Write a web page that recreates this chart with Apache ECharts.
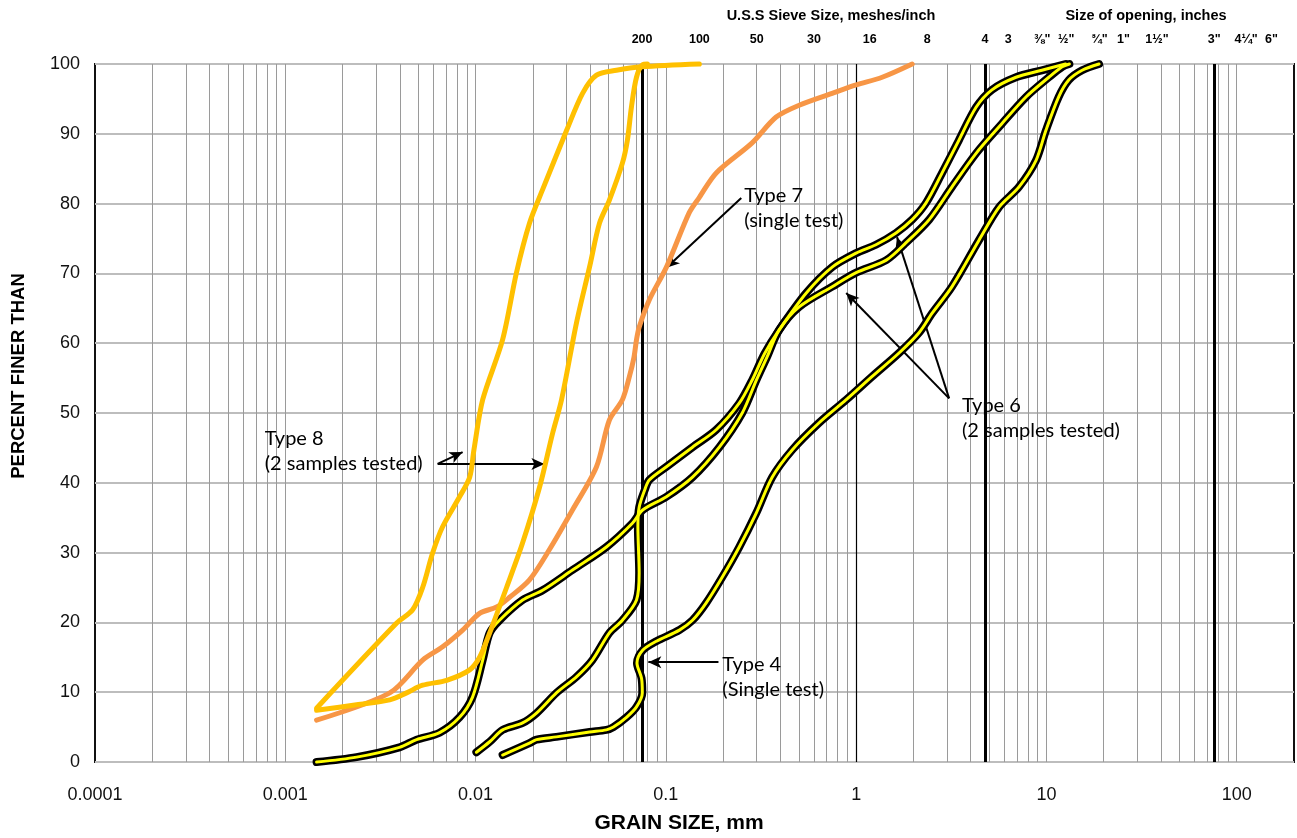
<!DOCTYPE html>
<html>
<head>
<meta charset="utf-8">
<title>Grain size distribution</title>
<script src="https://cdn.jsdelivr.net/npm/echarts@6/dist/echarts.min.js"></script>
<style>
  html, body { margin: 0; padding: 0; background: #fff; }
  #chart { width: 1297px; height: 838px; }
</style>
</head>
<body>
<div id="chart"></div>
<script>
// grain size (mm) and percent finer
const type8aSize = [0.00146, 0.00385, 0.00467, 0.00527, 0.00594, 0.00671, 0.00824, 0.00931, 0.0098, 0.0109, 0.01387, 0.0164, 0.0192, 0.0225, 0.0301, 0.0365, 0.0432, 0.055, 0.075, 0.15]
const type8aPct = [7.7, 19.9, 21.8, 25, 29.9, 33.7, 38, 40.8, 44.7, 51.9, 60.5, 70.1, 77.2, 82, 90.5, 95.8, 98.4, 99.1, 99.6, 100]

const type8bSize = [0.00146, 0.00237, 0.00354, 0.00434, 0.00527, 0.00705, 0.00931, 0.0105, 0.01186, 0.01455, 0.01767, 0.0217, 0.0254, 0.0283, 0.0339, 0.0397, 0.0448, 0.0505, 0.0591, 0.0628, 0.0659, 0.0701, 0.0755, 0.08]
const type8bPct = [7.4, 8.2, 8.9, 9.9, 11, 11.7, 13.2, 15, 18.5, 25, 31.4, 39.4, 47.1, 51.9, 62.9, 70.9, 77.2, 80.5, 85.8, 89.1, 93.8, 98.1, 99.9, 100]

const type7Size = [0.00146, 0.00354, 0.00527, 0.00671, 0.00855, 0.0105, 0.0129, 0.0151, 0.0192, 0.0244, 0.0323, 0.0432, 0.0505, 0.0591, 0.0643, 0.068, 0.0701, 0.0724, 0.0818, 0.1007, 0.1327, 0.15, 0.184, 0.284, 0.38, 0.502, 0.748, 1.0, 1.37, 1.97]
const type7Pct = [6.0, 9.9, 14.6, 16.5, 18.9, 21.3, 22.2, 23.6, 26.1, 30.4, 36.1, 42.3, 49, 51.9, 55.2, 58, 60.5, 62.3, 66.2, 70.9, 78.7, 80.9, 84.4, 88.7, 92.4, 94.1, 95.8, 97, 98.1, 100]

const type6aSize = [0.00146, 0.00237, 0.00398, 0.0049, 0.00647, 0.00824, 0.00964, 0.0109, 0.01186, 0.01336, 0.01767, 0.0225, 0.0323, 0.0487, 0.0667, 0.0755, 0.1007, 0.138, 0.191, 0.252, 0.299, 0.34, 0.394, 0.502, 0.748, 1.0, 1.44, 1.83, 2.42, 3.19, 4.27, 5.64, 7.83, 10.3, 12.1, 13.2]
const type6aPct = [0, 0.7, 2.1, 3.2, 4.2, 6.4, 9.3, 14.6, 18.5, 20.3, 23.2, 24.6, 27.5, 30.8, 34.2, 36.1, 38, 40.8, 45.1, 50, 54.7, 58, 61.9, 65.2, 68.1, 70.1, 71.9, 74.4, 77.7, 82.4, 87.2, 91, 95.3, 98.1, 99.6, 100]

const type6bSize = [0.0101, 0.01186, 0.01387, 0.01767, 0.0209, 0.0266, 0.0339, 0.0411, 0.0505, 0.0591, 0.0701, 0.0724, 0.0713, 0.0724, 0.0775, 0.0818, 0.1007, 0.138, 0.184, 0.243, 0.284, 0.33, 0.394, 0.547, 0.748, 1.0, 1.27, 1.62, 1.97, 2.33, 2.83, 3.47, 4.27, 5.17, 6.92, 9.46, 12.6]
const type6bPct = [1.4, 2.9, 4.6, 5.6, 7.0, 9.9, 12.2, 14.6, 18.5, 20.3, 23.2, 27.1, 33.7, 36.5, 39, 40.4, 42.3, 45.1, 47.6, 51.4, 54.7, 58.5, 61.9, 67.2, 70.9, 72.9, 74.1, 75.8, 77.7, 80.1, 84.4, 89.1, 93.8, 96.3, 98.1, 99.1, 100]

const type4Size = [0.01387, 0.0192, 0.0209, 0.0266, 0.0397, 0.0487, 0.053, 0.0621, 0.0701, 0.0752, 0.0745, 0.0705, 0.0755, 0.0891, 0.1178, 0.138, 0.163, 0.198, 0.243, 0.299, 0.362, 0.461, 0.639, 0.887, 1.21, 1.68, 2.14, 2.51, 3.19, 4.43, 5.64, 7.18, 8.82, 9.94, 11.6, 13.1, 15.4, 18.9]
const type4Pct = [1.0, 2.7, 3.2, 3.6, 4.3, 4.6, 5.0, 6.4, 7.9, 9.9, 12, 14.2, 16.0, 17.3, 18.9, 20.3, 22.8, 26.5, 30.8, 35.7, 40.8, 44.7, 48.6, 51.9, 55.2, 58.6, 61.5, 64.3, 68.1, 74.8, 79.5, 82.4, 86.2, 90.5, 95.3, 97.7, 99.1, 100]

// axis ticks
const xTickValues = [0.0001, 0.001, 0.01, 0.1, 1, 10, 100]
const xTickLabels = ['0.0001', '0.001', '0.01', '0.1', '1', '10', '100']

// sieve / opening sizes along the top (mm)
const sieveSizes = [0.075, 0.15, 0.3, 0.6, 1.18, 2.36, 4.75, 6.3, 9.5, 12.7, 19.0, 25.4, 38.1, 76.2, 112, 152.4]
const sieveLabels = ['200', '100', '50', '30', '16', '8', '4', '3', '⅜"', '½"', '¾"', '1"', '1½"', '3"', '4¼"', '6"']

// heavy reference lines: #200 sieve, #4 sieve, 3 inch
const boundarySizes = [0.075, 4.75, 76.2]

// annotations: text anchor (left, first line) and arrows [from, to]
const notes = [
  { text: 'Type 8\n(2 samples tested)', at: [0.00078, 46.4] },
  { text: 'Type 7\n(single test)', at: [0.258, 81.2] },
  { text: 'Type 6\n(2 samples tested)', at: [3.6, 51.1] },
  { text: 'Type 4\n(Single test)', at: [0.198, 13.9] }
]
const arrows = [
  [[0.00632, 42.7], [0.00855, 44.4]],
  [[0.00632, 42.7], [0.023, 42.7]],
  [[0.249, 80.8], [0.1007, 70.8]],
  [[3.08, 52.1], [1.64, 75.2]],
  [[3.08, 52.1], [0.887, 67.2]],
  [[0.189, 14.3], [0.0809, 14.3]]
]

const X_MIN = 0.0001
const X_MAX = 200

const gridSizes = []
for (let e = -4; e <= 2; e++) {
  for (let m = 1; m <= 9; m++) {
    const v = +(m * Math.pow(10, e)).toPrecision(3)
    if (v > X_MIN && v < X_MAX) gridSizes.push(v)
  }
}

function pairs (xs, ys) {
  return xs.map((x, i) => [x, ys[i]])
}

function vLines (values, color, width, z) {
  return {
    type: 'line',
    data: [],
    z: z,
    silent: true,
    markLine: {
      silent: true,
      precision: 10,
      symbol: 'none',
      label: { show: false },
      lineStyle: { color: color, width: width, type: 'solid' },
      emphasis: { disabled: true },
      data: values.map(v => ({ xAxis: v }))
    }
  }
}

function curve (name, data, color, width, z) {
  return {
    name: name,
    type: 'line',
    data: data,
    z: z,
    smooth: 0.3,
    symbol: 'none',
    clip: false,
    silent: true,
    lineStyle: { color: color, width: width, cap: 'round', join: 'round' }
  }
}

const d6a = pairs(type6aSize, type6aPct)
const d6b = pairs(type6bSize, type6bPct)
const d4 = pairs(type4Size, type4Pct)

const labelFont = 'Liberation Sans, Arial, sans-serif'

const option = {
  animation: false,
  backgroundColor: '#fff',
  grid: {
    left: 95,
    right: 3,
    top: 64,
    bottom: 76,
    containLabel: false,
    outerBoundsMode: 'none',
    show: true,
    borderColor: '#111',
    borderWidth: 2
  },
  xAxis: {
    type: 'log',
    logBase: 10,
    min: X_MIN,
    max: X_MAX,
    axisLine: { show: false },
    axisTick: { show: false },
    splitLine: { show: false },
    axisLabel: {
      margin: 24,
      fontSize: 18,
      color: '#111',
      fontFamily: labelFont,
      showMaxLabel: false,
      formatter: function (v) {
        const i = xTickValues.findIndex(t => Math.abs(Math.log10(t) - Math.log10(v)) < 1e-6)
        return i >= 0 ? xTickLabels[i] : ''
      }
    }
  },
  yAxis: {
    type: 'value',
    min: 0,
    max: 100,
    interval: 10,
    axisLine: { show: false },
    axisTick: { show: false },
    splitLine: { lineStyle: { color: '#bdbdbd', width: 2 } },
    axisLabel: { margin: 15, fontSize: 18, color: '#111', fontFamily: labelFont }
  },
  series: [
    vLines(gridSizes, '#9a9a9a', 1, 1),
    vLines([1], '#000', 1.2, 2),
    vLines(boundarySizes, '#000', 3, 3),
    // black outline first, yellow core on top
    curve('Type 6 a outline', d6a, '#000', 8, 10),
    curve('Type 6 b outline', d6b, '#000', 8, 10),
    curve('Type 4 outline', d4, '#000', 8, 10),
    curve('Type 6 a', d6a, '#ffff00', 3, 11),
    curve('Type 6 b', d6b, '#ffff00', 3, 11),
    curve('Type 4', d4, '#ffff00', 3, 11),
    curve('Type 7', pairs(type7Size, type7Pct), '#f79646', 5, 12),
    curve('Type 8 a', pairs(type8aSize, type8aPct), '#ffc000', 5, 13),
    curve('Type 8 b', pairs(type8bSize, type8bPct), '#ffc000', 5, 13),
    {
      type: 'line',
      data: [],
      z: 20,
      silent: true,
      markLine: {
        silent: true,
        precision: 10,
        symbol: ['none', 'arrow'],
        symbolSize: [9, 13],
        label: { show: false },
        lineStyle: { color: '#000', width: 2, type: 'solid' },
        emphasis: { disabled: true },
        data: arrows.map(a => [{ coord: a[0] }, { coord: a[1] }])
      }
    }
  ]
}

const chart = echarts.init(document.getElementById('chart'))
chart.setOption(option)

function toPx (x, y) {
  return chart.convertToPixel({ gridIndex: 0 }, [x, y])
}

function centered (text, x, y, font, extra) {
  return Object.assign({
    type: 'text',
    x: x,
    y: y,
    z: 50,
    style: {
      text: text,
      font: font,
      fill: '#000',
      align: 'center',
      verticalAlign: 'middle',
      textAlign: 'center',
      textVerticalAlign: 'middle'
    }
  }, extra || {})
}

const graphics = []

sieveSizes.forEach((s, i) => {
  const p = toPx(s, 100)
  graphics.push(centered(sieveLabels[i], p[0], 40, 'bold 12.5px ' + labelFont))
})

graphics.push(centered('U.S.S Sieve Size, meshes/inch', 831, 16, 'bold 14.5px ' + labelFont))
graphics.push(centered('Size of opening, inches', 1146, 16, 'bold 14.5px ' + labelFont))
graphics.push(centered('GRAIN SIZE, mm', 679, 823, 'bold 21px ' + labelFont))
graphics.push(centered('PERCENT FINER THAN', 19, 376, 'bold 18.5px ' + labelFont, { rotation: Math.PI / 2 }))

const NOTE_LINE = 25
notes.forEach(n => {
  const p = toPx(n.at[0], n.at[1])
  graphics.push({
    type: 'text',
    x: p[0],
    y: p[1] - NOTE_LINE / 2,
    z: 50,
    style: {
      text: n.text,
      font: '20px Lato, "Open Sans", sans-serif',
      lineHeight: NOTE_LINE,
      fill: '#000',
      align: 'left',
      verticalAlign: 'top',
      textAlign: 'left',
      textVerticalAlign: 'top'
    }
  })
})

chart.setOption({ graphic: graphics })
</script>
</body>
</html>
